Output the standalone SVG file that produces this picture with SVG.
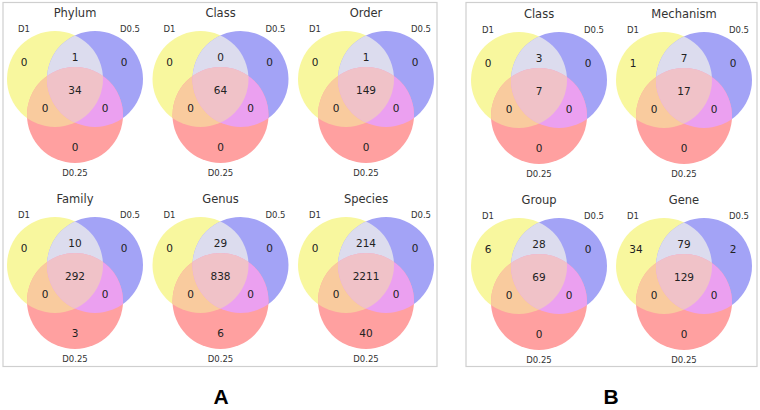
<svg xmlns="http://www.w3.org/2000/svg" xmlns:xlink="http://www.w3.org/1999/xlink" width="760" height="410" viewBox="0 0 760 410">
<style>
.t{font-family:"DejaVu Sans",sans-serif;font-size:11.5px;fill:#333;text-anchor:middle}
.l{font-family:"DejaVu Sans",sans-serif;font-size:8.5px;fill:#333;text-anchor:middle}
.n{font-family:"DejaVu Sans",sans-serif;font-size:10.5px;fill:#222;text-anchor:middle}
.p{font-family:"Liberation Sans",Arial,sans-serif;font-size:21px;font-weight:bold;fill:#000;text-anchor:middle}
.box{fill:#fff;stroke:#cfcfcf;stroke-width:1.2}
</style>
<defs>
<clipPath id="cY" clipPathUnits="userSpaceOnUse"><circle cx="-20" cy="-11" r="48"/></clipPath>
<clipPath id="cB" clipPathUnits="userSpaceOnUse"><circle cx="20" cy="-11" r="48"/></clipPath>
<g id="venn">
<circle cx="-20" cy="-11" r="48" fill="#f8f79e"/>
<circle cx="20" cy="-11" r="48" fill="#a3a3f6"/>
<circle cx="0" cy="25" r="48" fill="#ffa0a0"/>
<circle cx="20" cy="-11" r="48" fill="#dcdcee" clip-path="url(#cY)"/>
<circle cx="0" cy="25" r="48" fill="#f9cb9e" clip-path="url(#cY)"/>
<circle cx="0" cy="25" r="48" fill="#eba0f0" clip-path="url(#cB)"/>
<g clip-path="url(#cY)"><circle cx="0" cy="25" r="48" fill="#f0c2c8" clip-path="url(#cB)"/></g>
</g>
<g id="labels">
<text class="l" x="-51" y="-58">D1</text>
<text class="l" x="55" y="-58">D0.5</text>
<text class="l" x="0" y="86">D0.25</text>
</g>
</defs>
<rect class="box" x="3" y="2.5" width="434" height="364"/>
<rect class="box" x="466" y="2.5" width="291" height="364"/>

<g id="A-phylum" transform="translate(75,90)">
<use xlink:href="#venn"/><use xlink:href="#labels"/>
<text class="t" x="0" y="-73">Phylum</text>
<text class="n" x="-51" y="-24">0</text><text class="n" x="49" y="-24">0</text>
<text class="n" x="0" y="-29">1</text><text class="n" x="0" y="4">34</text>
<text class="n" x="-30" y="22">0</text><text class="n" x="30" y="22">0</text>
<text class="n" x="0" y="61">0</text>
</g>
<g id="A-class" transform="translate(220.5,90)">
<use xlink:href="#venn"/><use xlink:href="#labels"/>
<text class="t" x="0" y="-73">Class</text>
<text class="n" x="-51" y="-24">0</text><text class="n" x="49" y="-24">0</text>
<text class="n" x="0" y="-29">0</text><text class="n" x="0" y="4">64</text>
<text class="n" x="-30" y="22">0</text><text class="n" x="30" y="22">0</text>
<text class="n" x="0" y="61">0</text>
</g>
<g id="A-order" transform="translate(366,90)">
<use xlink:href="#venn"/><use xlink:href="#labels"/>
<text class="t" x="0" y="-73">Order</text>
<text class="n" x="-51" y="-24">0</text><text class="n" x="49" y="-24">0</text>
<text class="n" x="0" y="-29">1</text><text class="n" x="0" y="4">149</text>
<text class="n" x="-30" y="22">0</text><text class="n" x="30" y="22">0</text>
<text class="n" x="0" y="61">0</text>
</g>
<g id="A-family" transform="translate(75,276)">
<use xlink:href="#venn"/><use xlink:href="#labels"/>
<text class="t" x="0" y="-73">Family</text>
<text class="n" x="-51" y="-24">0</text><text class="n" x="49" y="-24">0</text>
<text class="n" x="0" y="-29">10</text><text class="n" x="0" y="4">292</text>
<text class="n" x="-30" y="22">0</text><text class="n" x="30" y="22">0</text>
<text class="n" x="0" y="61">3</text>
</g>
<g id="A-genus" transform="translate(220.5,276)">
<use xlink:href="#venn"/><use xlink:href="#labels"/>
<text class="t" x="0" y="-73">Genus</text>
<text class="n" x="-51" y="-24">0</text><text class="n" x="49" y="-24">0</text>
<text class="n" x="0" y="-29">29</text><text class="n" x="0" y="4">838</text>
<text class="n" x="-30" y="22">0</text><text class="n" x="30" y="22">0</text>
<text class="n" x="0" y="61">6</text>
</g>
<g id="A-species" transform="translate(366,276)">
<use xlink:href="#venn"/><use xlink:href="#labels"/>
<text class="t" x="0" y="-73">Species</text>
<text class="n" x="-51" y="-24">0</text><text class="n" x="49" y="-24">0</text>
<text class="n" x="0" y="-29">214</text><text class="n" x="0" y="4">2211</text>
<text class="n" x="-30" y="22">0</text><text class="n" x="30" y="22">0</text>
<text class="n" x="0" y="61">40</text>
</g>

<g id="B-class" transform="translate(539,91)">
<use xlink:href="#venn"/><use xlink:href="#labels"/>
<text class="t" x="0" y="-73">Class</text>
<text class="n" x="-51" y="-24">0</text><text class="n" x="49" y="-24">0</text>
<text class="n" x="0" y="-29">3</text><text class="n" x="0" y="4">7</text>
<text class="n" x="-30" y="22">0</text><text class="n" x="30" y="22">0</text>
<text class="n" x="0" y="61">0</text>
</g>
<g id="B-mechanism" transform="translate(684,91)">
<use xlink:href="#venn"/><use xlink:href="#labels"/>
<text class="t" x="0" y="-73">Mechanism</text>
<text class="n" x="-51" y="-24">1</text><text class="n" x="49" y="-24">0</text>
<text class="n" x="0" y="-29">7</text><text class="n" x="0" y="4">17</text>
<text class="n" x="-30" y="22">0</text><text class="n" x="30" y="22">0</text>
<text class="n" x="0" y="61">0</text>
</g>
<g id="B-group" transform="translate(539,277)">
<use xlink:href="#venn"/><use xlink:href="#labels"/>
<text class="t" x="0" y="-73">Group</text>
<text class="n" x="-51" y="-24">6</text><text class="n" x="49" y="-24">0</text>
<text class="n" x="0" y="-29">28</text><text class="n" x="0" y="4">69</text>
<text class="n" x="-30" y="22">0</text><text class="n" x="30" y="22">0</text>
<text class="n" x="0" y="61">0</text>
</g>
<g id="B-gene" transform="translate(684,277)">
<use xlink:href="#venn"/><use xlink:href="#labels"/>
<text class="t" x="0" y="-73">Gene</text>
<text class="n" x="-48" y="-24">34</text><text class="n" x="49" y="-24">2</text>
<text class="n" x="0" y="-29">79</text><text class="n" x="0" y="4">129</text>
<text class="n" x="-30" y="22">0</text><text class="n" x="30" y="22">0</text>
<text class="n" x="0" y="61">0</text>
</g>

<text class="p" x="221" y="404">A</text>
<text class="p" x="611" y="404">B</text>
</svg>
